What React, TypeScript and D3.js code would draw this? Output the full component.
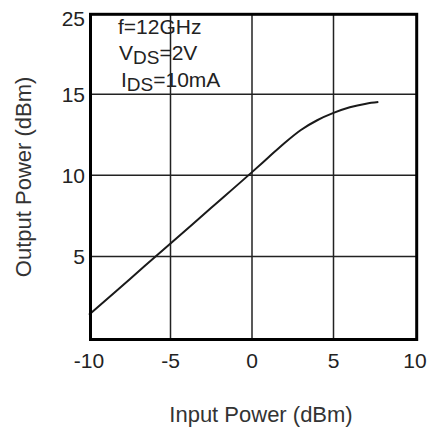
import React from "react";
import * as d3 from "d3";

const inputPower = [-10, -7.5, -5, -2.5, 0, 1, 2, 3, 4, 5, 6, 7, 7.75];
const outputPower = [1.4, 3.6, 5.8, 8.0, 10.2, 11.1, 12.0, 12.8, 13.4, 13.85, 14.2, 14.42, 14.52];
const xTicks = [-10, -5, 0, 5, 10];
const yTicks = [5, 10, 15, 25];
const yGrid = [5, 10, 15];
const xGrid = [-5, 0, 5];

const W = 432;
const H = 430;
const FONT = "'Liberation Sans', Arial, sans-serif";

export default function App() {
  const x = d3.scaleLinear().domain([-10, 10]).range([89, 415]);
  const y = d3.scaleLinear().domain([0, 15, 25]).range([337.5, 94.3, 14.3]);
  const left = 90.5, right = 416.7, top = 14.3, bottom = 339.5;
  const pts = inputPower.map((v, i) => [v, outputPower[i]] as [number, number]);
  const line = d3
    .line<[number, number]>()
    .x((d) => x(d[0]))
    .y((d) => y(d[1]))
    .curve(d3.curveMonotoneX);

  return (
    <svg width={W} height={H} style={{ position: "absolute", left: 0, top: 0, background: "#fff" }}>
      {xGrid.map((v) => (
        <line key={"gx" + v} x1={x(v)} x2={x(v)} y1={top} y2={bottom} stroke="#222" strokeWidth={1.5} />
      ))}
      {yGrid.map((v) => (
        <line key={"gy" + v} x1={left} x2={right} y1={y(v)} y2={y(v)} stroke="#222" strokeWidth={1.5} />
      ))}
      <path d={line(pts) || ""} fill="none" stroke="#1a1a1a" strokeWidth={2} />
      <rect x={left} y={top} width={right - left} height={bottom - top} fill="none" stroke="#000" strokeWidth={3} />
      {xTicks.map((v) => (
        <text key={"xt" + v} x={x(v)} y={368} textAnchor="middle" fontFamily={FONT} fontSize={21} fill="#222">
          {v}
        </text>
      ))}
      {yTicks.map((v) => (
        <text key={"yt" + v} x={85} y={Math.max(y(v), 18) + 7.5} textAnchor="end" fontFamily={FONT} fontSize={21} fill="#222">
          {v}
        </text>
      ))}
      <text x={118} y={34} fontFamily={FONT} fontSize={21} fill="#222">f=12GHz</text>
      <text x={119} y={60} fontFamily={FONT} fontSize={21} fill="#222">
        V<tspan fontSize={19} dy={4}>DS</tspan><tspan dy={-4}>=2V</tspan>
      </text>
      <text x={121} y={87} fontFamily={FONT} fontSize={21} fill="#222">
        I<tspan fontSize={19} dy={4}>DS</tspan><tspan dy={-4}>=10mA</tspan>
      </text>
      <text x={261} y={422} textAnchor="middle" fontFamily={FONT} fontSize={22} fill="#333">
        Input Power (dBm)
      </text>
      <text
        transform={`translate(31, ${(top + bottom) / 2}) rotate(-90)`}
        textAnchor="middle"
        fontFamily={FONT}
        fontSize={22}
        fill="#333"
      >
        Output Power (dBm)
      </text>
    </svg>
  );
}
